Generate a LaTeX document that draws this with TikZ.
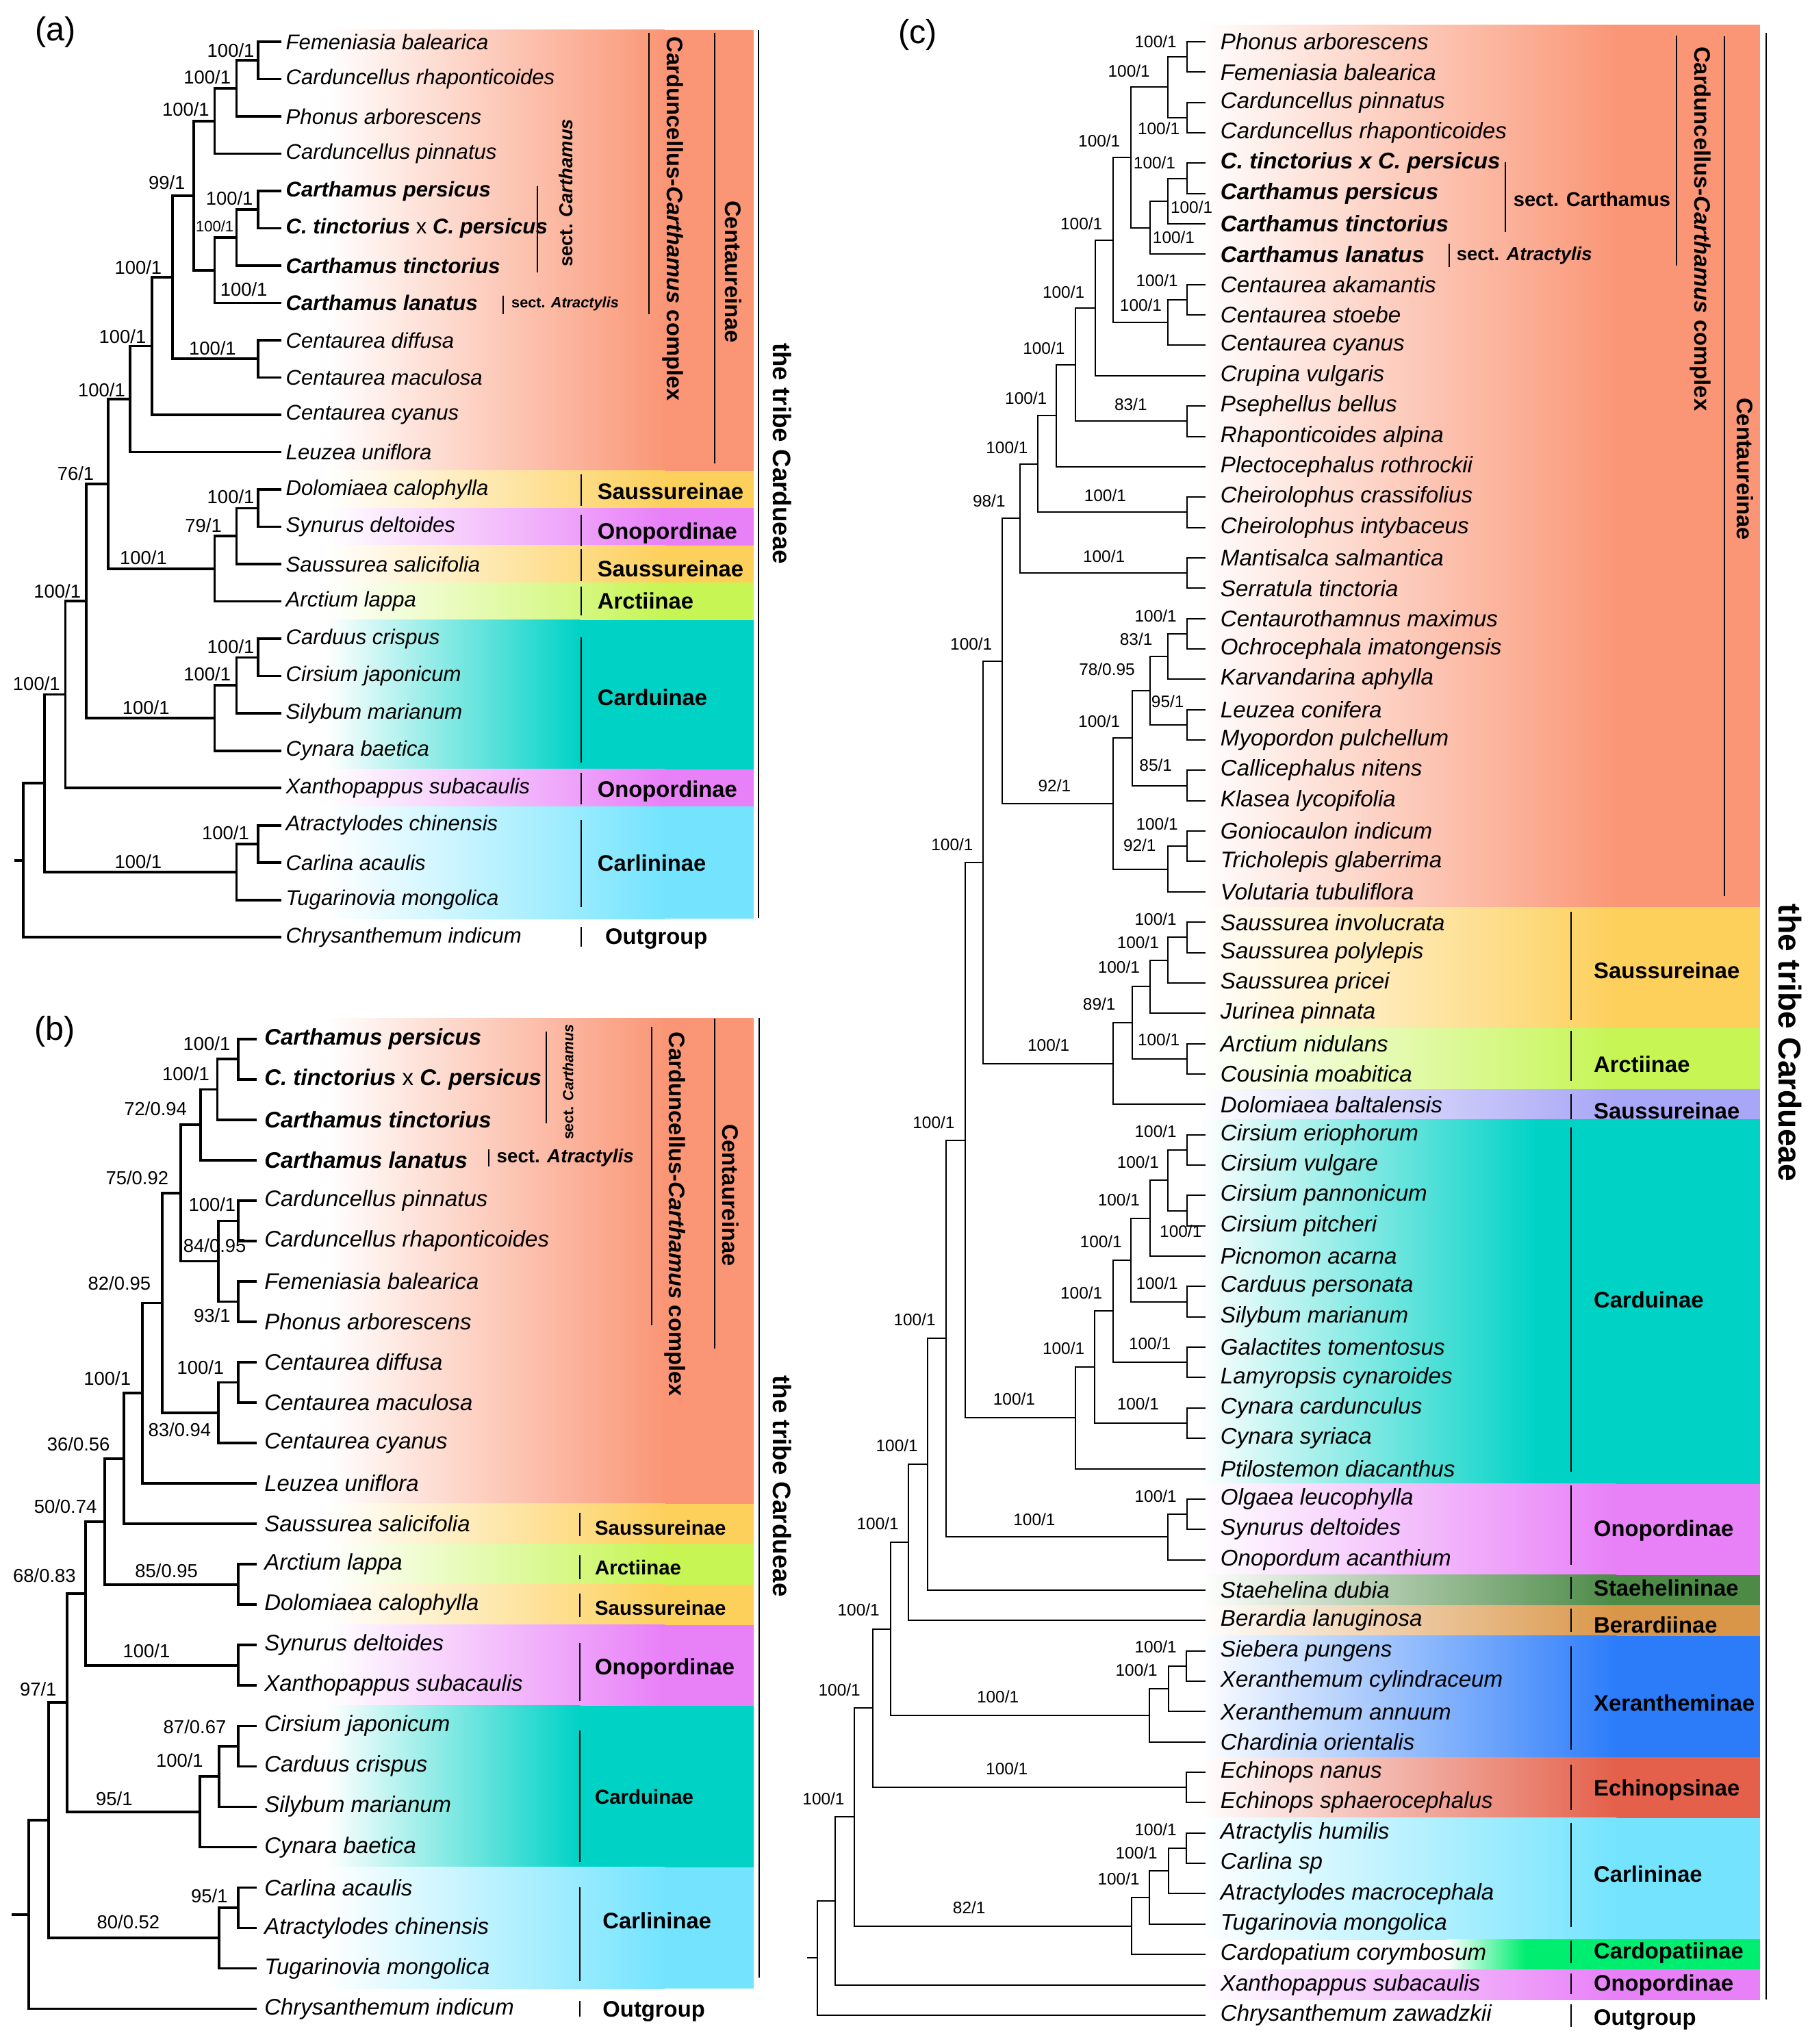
\documentclass[tikz,border=0pt]{standalone}
\usepackage{fontspec}
\setmainfont{Liberation Sans}
\usetikzlibrary{calc}

\definecolor{centc}{RGB}{250,150,118}
\definecolor{sausc}{RGB}{253,208,92}
\definecolor{onopc}{RGB}{232,128,248}
\definecolor{arctc}{RGB}{198,245,84}
\definecolor{cardc}{RGB}{0,210,198}
\definecolor{carlc}{RGB}{116,228,254}
\definecolor{staec}{RGB}{76,138,70}
\definecolor{berac}{RGB}{218,150,72}
\definecolor{xerac}{RGB}{44,124,250}
\definecolor{echic}{RGB}{228,96,74}
\definecolor{cdpac}{RGB}{0,238,112}
\definecolor{lavc}{RGB}{168,166,246}

% clade: name, x, child, child, support value, label position
\newcommand\clade[6]{%
  \coordinate (tmpx) at (#2,0);
  \coordinate (tmpm) at ($(#3)!.5!(#4)$);
  \coordinate (#1) at (tmpm -| tmpx);
  \draw[branch] (#3) -| (#1) |- (#4);
  \if\relax\detokenize{#5}\relax\else
    \node[support] (#1l) at (#6) {#5};
  \fi}
% coloured band behind a group of rows
\newcommand\band[3]{%
  \shade[left color=white, right color=#3] (\ga,#1) rectangle (\gb,#2);
  \fill[#3] (\gb-0.5,#1) rectangle (\bx,#2);}
% subtribe bar with its name
\newcommand\grp[5]{%
  \draw[grpbar] (\gx,#2) -- (\gx,#3);
  \node[grplab] (#1) at (\glx,#4) {#5};}

\begin{document}
\begin{tikzpicture}[x=0.02cm, y=-0.02cm,
  grpbar/.style={line width=0.6pt},
  grplab/.style={anchor=west, inner sep=0pt, font=\fontsize{9.8}{11}\selectfont\bfseries},
  sidelab/.style={inner sep=0pt, rotate=-90, font=\fontsize{9.8}{11}\selectfont\bfseries},
  sectlab/.style={inner sep=0pt, font=\bfseries},
  panel/.style={inner sep=0pt, font=\fontsize{14.5}{16}\selectfont}]
\useasboundingbox (0,0) rectangle (1388,1568);

%%% (a)
\begin{scope}[taxon/.style={anchor=west, inner sep=0pt, font=\fontsize{9.3}{11}\selectfont\itshape},
  support/.style={inner sep=0pt, font=\fontsize{8.2}{9}\selectfont},
  branch/.style={line width=1.1pt}]
\def\ga{250}\def\gb{510}\def\bx{578}\def\gx{446}\def\glx{458}
\band{23}{361.2}{centc}
\band{361.2}{389.8}{sausc}
\band{389.8}{418.4}{onopc}
\band{418.4}{447.1}{sausc}
\band{447.1}{475.7}{arctc}
{\def\gb{445}\band{475.7}{590.2}{cardc}}
\band{590.2}{618.8}{onopc}
\band{618.8}{704.7}{carlc}
\node[panel] (pa) at (42.7,24.7) {(a)};
\foreach \txt [count=\i] in {Femeniasia balearica, Carduncellus rhaponticoides,
  Phonus arborescens, Carduncellus pinnatus, {\bfseries Carthamus persicus},
  {{\bfseries C. tinctorius} {\upshape x} {\bfseries C. persicus}},
  {\bfseries Carthamus tinctorius}, {\bfseries Carthamus lanatus},
  Centaurea diffusa, Centaurea maculosa, Centaurea cyanus, Leuzea uniflora,
  Dolomiaea calophylla, Synurus deltoides, Saussurea salicifolia, Arctium lappa,
  Carduus crispus, Cirsium japonicum, Silybum marianum, Cynara baetica,
  Xanthopappus subacaulis, Atractylodes chinensis, Carlina acaulis,
  Tugarinovia mongolica, Chrysanthemum indicum} {
  \coordinate (a\i) at (216,{32+28.625*(\i-1)});
  \node[taxon] (la\i) at (219,{32+28.625*(\i-1)}) {\txt};
}
\clade{an1}{198}{a1}{a2}{100/1}{177,38.5}
\clade{an2}{181.5}{an1}{a3}{100/1}{159,59}
\clade{an3}{164.6}{an2}{a4}{100/1}{142.5,84}
\clade{an4}{198}{a5}{a6}{100/1}{176,152}
\clade{an5}{181.5}{an4}{a7}{\fontsize{6.6}{7}\selectfont 100/1}{164.7,173.5}
\clade{an6}{164.6}{an5}{a8}{100/1}{187,222}
\clade{an7}{148.6}{an3}{an6}{99/1}{128,140}
\clade{an8}{198}{a9}{a10}{100/1}{163,267}
\clade{an9}{132.5}{an7}{an8}{100/1}{106,205}
\clade{an10}{116.5}{an9}{a11}{100/1}{94,258}
\clade{an11}{99.6}{an10}{a12}{100/1}{78,299}
\clade{an12}{198}{a13}{a14}{100/1}{177,381}
\clade{an13}{181.5}{an12}{a15}{79/1}{156,403}
\clade{an14}{164.6}{an13}{a16}{100/1}{110,428}
\clade{an15}{83}{an11}{an14}{76/1}{58,363}
\clade{an16}{198}{a17}{a18}{100/1}{177,496}
\clade{an17}{181.5}{an16}{a19}{100/1}{159,517}
\clade{an18}{164.6}{an17}{a20}{100/1}{112,542.6}
\clade{an19}{66.3}{an15}{an18}{100/1}{44,453.5}
\clade{an20}{50.2}{an19}{a21}{100/1}{28,524.5}
\clade{an21}{198}{a22}{a23}{100/1}{173,639}
\clade{an22}{181.5}{an21}{a24}{100/1}{106,660.7}
\clade{an23}{34.1}{an20}{an22}{}{}
\clade{an24}{17.7}{an23}{a25}{}{}
\draw[branch] (an24) -- ++(-6.9,0);
\grp{ag1}{364}{388}{377}{Saussureinae}
\grp{ag2}{395}{419}{409}{Onopordinae}
\grp{ag3}{421}{446}{436}{Saussureinae}
\grp{ag4}{450}{472}{461}{Arctiinae}
\grp{ag5}{489}{585}{535}{Carduinae}
\grp{ag6}{593}{617}{607}{Onopordinae}
\grp{ag7}{629}{696}{662}{Carlininae}
\draw[grpbar] (446,711) -- (446,726);
\node[grplab] (ag8) at (463.9,720) {Outgroup};
\draw[grpbar] (412,143) -- (412,209);
\node[sectlab, rotate=90, font=\fontsize{8.2}{9}\selectfont\bfseries] (as1) at (434,148) {sect. \textit{Carthamus}};
\draw[grpbar] (386,226.6) -- (386,241);
\node[sectlab, anchor=west, font=\fontsize{6.5}{7}\selectfont\bfseries] (as2) at (392,233) {sect. \textit{Atractylis}};
\draw[grpbar] (498,25) -- (498,241);
\node[sidelab] (acx) at (516,168) {Carduncellus-\textit{Carthamus} complex};
\draw[grpbar] (548,25) -- (548,355.5);
\node[sidelab] (acent) at (562.5,208.5) {Centaureinae};
\draw[grpbar] (582,23) -- (582,704);
\node[sidelab, font=\fontsize{11}{13}\selectfont\bfseries] (atribe) at (600,348) {the tribe Cardueae};
\end{scope}

%%% (b)
\begin{scope}[taxon/.style={anchor=west, inner sep=0pt, font=\fontsize{9.85}{11}\selectfont\itshape},
  support/.style={inner sep=0pt, font=\fontsize{8.2}{9}\selectfont},
  branch/.style={line width=1.1pt}]
\def\ga{250}\def\gb{510}\def\bx{578}\def\gx{445}\def\glx{456}
\band{781}{1153.5}{centc}
\band{1153.5}{1184.5}{sausc}
\band{1184.5}{1215.5}{arctc}
\band{1215.5}{1246.5}{sausc}
\band{1246.5}{1308.5}{onopc}
{\def\gb{445}\band{1308.5}{1432.5}{cardc}}
\band{1432.5}{1525.5}{carlc}
\node[panel] (pb) at (42.2,791.5) {(b)};
\foreach \txt [count=\i] in {{\bfseries Carthamus persicus},
  {{\bfseries C. tinctorius} {\upshape x} {\bfseries C. persicus}},
  {\bfseries Carthamus tinctorius}, {\bfseries Carthamus lanatus},
  Carduncellus pinnatus, Carduncellus rhaponticoides, Femeniasia balearica,
  Phonus arborescens, Centaurea diffusa, Centaurea maculosa, Centaurea cyanus,
  Leuzea uniflora, Saussurea salicifolia, Arctium lappa, Dolomiaea calophylla,
  Synurus deltoides, Xanthopappus subacaulis, Cirsium japonicum, Carduus crispus,
  Silybum marianum, Cynara baetica, Carlina acaulis, Atractylodes chinensis,
  Tugarinovia mongolica, Chrysanthemum indicum} {
  \coordinate (b\i) at (197,{797+31*(\i-1)});
  \node[taxon] (lb\i) at (202.5,{797+31*(\i-1)}) {\txt};
}
\clade{bn1}{182.7}{b1}{b2}{100/1}{158.6,800.4}
\clade{bn2}{166.7}{bn1}{b3}{100/1}{142.6,824}
\clade{bn3}{153.8}{bn2}{b4}{72/0.94}{119.3,850.5}
\clade{bn4}{182.7}{b5}{b6}{100/1}{162.7,923.8}
\clade{bn5}{182.7}{b7}{b8}{93/1}{162.7,1009}
\clade{bn6}{167.5}{bn4}{bn5}{84/0.95}{164.7,955.6}
\clade{bn7}{138.6}{bn3}{bn6}{75/0.92}{105.2,903.5}
\clade{bn8}{182.7}{b9}{b10}{100/1}{153.8,1049.2}
\clade{bn9}{167.5}{bn8}{b11}{83/0.94}{137.8,1096.8}
\clade{bn10}{124.5}{bn7}{bn9}{82/0.95}{91.6,984.3}
\clade{bn11}{109.2}{bn10}{b12}{100/1}{82.3,1057.4}
\clade{bn12}{95.2}{bn11}{b13}{36/0.56}{60.2,1108}
\clade{bn13}{182.7}{b14}{b15}{85/0.95}{127.7,1205.2}
\clade{bn14}{80.3}{bn12}{bn13}{50/0.74}{50.2,1155.5}
\clade{bn15}{182.7}{b16}{b17}{100/1}{112.4,1266.6}
\clade{bn16}{65.5}{bn14}{bn15}{68/0.83}{34.1,1208.6}
\clade{bn17}{182.7}{b18}{b19}{87/0.67}{149.4,1324.7}
\clade{bn18}{167.9}{bn17}{b20}{100/1}{137.8,1350.4}
\clade{bn19}{153.4}{bn18}{b21}{95/1}{87.6,1380}
\clade{bn20}{51.4}{bn16}{bn19}{97/1}{29.3,1295.7}
\clade{bn21}{182.7}{b22}{b23}{95/1}{160.6,1454.6}
\clade{bn22}{167.9}{bn21}{b24}{80/0.52}{98.4,1474.5}
\clade{bn23}{37.3}{bn20}{bn22}{}{}
\clade{bn24}{22.1}{bn23}{b25}{}{}
\draw[branch] (bn24) -- ++(-13.3,0);
\grp{bg1}{1160.7}{1178.1}{1171.8}{\fontsize{8.8}{10}\selectfont Saussureinae}
\grp{bg2}{1192.8}{1211.3}{1202.5}{\fontsize{8.8}{10}\selectfont Arctiinae}
\grp{bg3}{1222.4}{1240.4}{1233.4}{\fontsize{8.8}{10}\selectfont Saussureinae}
\grp{bg4}{1260.5}{1304.8}{1280.4}{Onopordinae}
\grp{bg5}{1327.4}{1428.3}{1378.6}{\fontsize{8.8}{10}\selectfont Carduinae}
\draw[grpbar] (445,1447.7) -- (445,1519.6);
\node[grplab] (bg6) at (462,1473.4) {Carlininae};
\draw[grpbar] (445,1534.8) -- (445,1547.2);
\node[grplab] (bg7) at (462,1543.1) {Outgroup};
\draw[grpbar] (418.9,791.5) -- (418.9,861.5);
\node[sectlab, rotate=90, font=\fontsize{6.4}{7}\selectfont\bfseries] (bs1) at (435.7,830) {sect. \textit{Carthamus}};
\draw[grpbar] (374.7,881.8) -- (374.7,894.6);
\node[sectlab, anchor=west, font=\fontsize{8.3}{9}\selectfont\bfseries] (bs2) at (380.7,888) {sect. \textit{Atractylis}};
\draw[grpbar] (500,787.7) -- (500,1016.7);
\node[sidelab] (bcx) at (518,931.5) {Carduncellus-\textit{Carthamus} complex};
\draw[grpbar] (548.2,781.3) -- (548.2,1034.5);
\node[sidelab] (bcent) at (560.2,916.8) {Centaureinae};
\draw[grpbar] (582.3,781) -- (582.3,1517);
\node[sidelab, font=\fontsize{11}{13}\selectfont\bfseries] (btribe) at (600,1140) {the tribe Cardueae};
\end{scope}

%%% (c)
\begin{scope}[taxon/.style={anchor=west, inner sep=0pt, font=\fontsize{9.9}{11}\selectfont\itshape},
  support/.style={inner sep=0pt, font=\fontsize{7.3}{8}\selectfont},
  branch/.style={line width=0.6pt}]
\def\ga{920}\def\gb{1240}\def\bx{1350}\def\gx{1205.3}\def\glx{1222.2}
\band{19}{695.8}{centc}
\band{695.8}{788.9}{sausc}
\band{788.9}{835.5}{arctc}
\band{835.5}{858.8}{lavc}
{\def\gb{1180}\band{858.8}{1138.3}{cardc}}
\band{1138.3}{1208.2}{onopc}
\band{1208.2}{1231.5}{staec}
\band{1231.5}{1254.8}{berac}
\band{1254.8}{1348}{xerac}
\band{1348}{1394.5}{echic}
\band{1394.5}{1487.7}{carlc}
{\def\ga{1110}\def\gb{1170}\band{1487.7}{1511}{cdpac}}
\band{1511}{1534.3}{onopc}
\node[panel] (pc) at (704,27) {(c)};
\foreach \txt [count=\i] in {Phonus arborescens, Femeniasia balearica,
  Carduncellus pinnatus, Carduncellus rhaponticoides,
  {\bfseries C. tinctorius x C. persicus}, {\bfseries Carthamus persicus},
  {\bfseries Carthamus tinctorius}, {\bfseries Carthamus lanatus},
  Centaurea akamantis, Centaurea stoebe, Centaurea cyanus, Crupina vulgaris,
  Psephellus bellus, Rhaponticoides alpina, Plectocephalus rothrockii,
  Cheirolophus crassifolius, Cheirolophus intybaceus, Mantisalca salmantica,
  Serratula tinctoria, Centaurothamnus maximus, Ochrocephala imatongensis,
  Karvandarina aphylla, Leuzea conifera, Myopordon pulchellum,
  Callicephalus nitens, Klasea lycopifolia, Goniocaulon indicum,
  Tricholepis glaberrima, Volutaria tubuliflora, Saussurea involucrata,
  Saussurea polylepis, Saussurea pricei, Jurinea pinnata, Arctium nidulans,
  Cousinia moabitica, Dolomiaea baltalensis, Cirsium eriophorum,
  Cirsium vulgare, Cirsium pannonicum, Cirsium pitcheri, Picnomon acarna,
  Carduus personata, Silybum marianum, Galactites tomentosus,
  Lamyropsis cynaroides, Cynara cardunculus, Cynara syriaca,
  Ptilostemon diacanthus, Olgaea leucophylla, Synurus deltoides,
  Onopordum acanthium, Staehelina dubia, Berardia lanuginosa, Siebera pungens,
  Xeranthemum cylindraceum, Xeranthemum annuum, Chardinia orientalis,
  Echinops nanus, Echinops sphaerocephalus, Atractylis humilis, Carlina sp,
  Atractylodes macrocephala, Tugarinovia mongolica, Cardopatium corymbosum,
  Xanthopappus subacaulis, Chrysanthemum zawadzkii} {
  \coordinate (c\i) at (924.5,{32+23.29*(\i-1)});
  \node[taxon] (lc\i) at (935.9,{32+23.29*(\i-1)}) {\txt};
}
\clade{cn1}{910.3}{c1}{c2}{100/1}{886.5,31.8}
\clade{cn2}{910.3}{c3}{c4}{100/1}{888.8,98.7}
\clade{cn3}{895.7}{cn1}{cn2}{100/1}{866,54.7}
\clade{cn4}{910.3}{c5}{c6}{100/1}{885.6,124.7}
\clade{cn5}{895.7}{cn4}{c7}{100/1}{914,159}
\clade{cn6}{882}{cn5}{c8}{100/1}{900.3,182}
\clade{cn7}{867.4}{cn3}{cn6}{100/1}{843.2,108.1}
\clade{cn8}{910.3}{c9}{c10}{100/1}{887.5,215}
\clade{cn9}{895.7}{cn8}{c11}{100/1}{875.1,234}
\clade{cn10}{853.7}{cn7}{cn9}{100/1}{829.5,171.7}
\clade{cn11}{840}{cn10}{c12}{100/1}{815.8,223.9}
\clade{cn12}{910.3}{c13}{c14}{83/1}{867.4,310.4}
\clade{cn13}{824.9}{cn11}{cn12}{100/1}{800.7,267.1}
\clade{cn14}{810.3}{cn13}{c15}{100/1}{787,305.3}
\clade{cn15}{910.3}{c16}{c17}{100/1}{847.7,380.3}
\clade{cn16}{796.1}{cn14}{cn15}{100/1}{772.4,343.4}
\clade{cn17}{910.3}{c18}{c19}{100/1}{846.8,426.7}
\clade{cn18}{782.4}{cn16}{cn17}{98/1}{758.7,384.2}
\clade{cn19}{910.3}{c20}{c21}{100/1}{886.5,472.5}
\clade{cn20}{895.7}{cn19}{c22}{83/1}{871.5,490.3}
\clade{cn21}{910.3}{c23}{c24}{95/1}{895.7,538.1}
\clade{cn22}{882}{cn20}{cn21}{78/0.95}{849.1,513.2}
\clade{cn23}{910.3}{c25}{c26}{85/1}{886.5,586.9}
\clade{cn24}{868.3}{cn22}{cn23}{100/1}{843.2,553.4}
\clade{cn25}{910.3}{c27}{c28}{100/1}{887.5,632}
\clade{cn26}{895.7}{cn25}{c29}{92/1}{874.2,648.5}
\clade{cn27}{853.7}{cn24}{cn26}{92/1}{808.9,602.7}
\clade{cn28}{768.7}{cn18}{cn27}{100/1}{745,494.1}
\clade{cn29}{910.3}{c30}{c31}{100/1}{886.5,705.2}
\clade{cn30}{895.7}{cn29}{c32}{100/1}{872.9,723}
\clade{cn31}{882}{cn30}{c33}{100/1}{858.2,742.1}
\clade{cn32}{910.3}{c34}{c35}{100/1}{888.8,797.3}
\clade{cn33}{868.3}{cn31}{cn32}{89/1}{843.2,770.1}
\clade{cn34}{853.7}{cn33}{c36}{100/1}{804.3,801.6}
\clade{cn35}{754.1}{cn28}{cn34}{100/1}{730.4,648}
\clade{cn36}{910.3}{c37}{c38}{100/1}{886.5,868}
\clade{cn37}{910.3}{c39}{c40}{100/1}{905.7,944.3}
\clade{cn38}{895.7}{cn36}{cn37}{100/1}{872.9,891.4}
\clade{cn39}{882}{cn38}{c41}{100/1}{858.2,920.6}
\clade{cn40}{910.3}{c42}{c43}{100/1}{887.5,984.2}
\clade{cn41}{867.4}{cn39}{cn40}{100/1}{844.5,952.4}
\clade{cn42}{910.3}{c44}{c45}{100/1}{882,1030.8}
\clade{cn43}{853.7}{cn41}{cn42}{100/1}{829.5,991.9}
\clade{cn44}{910.3}{c46}{c47}{100/1}{872.9,1077.1}
\clade{cn45}{839.5}{cn43}{cn44}{100/1}{815.8,1034.4}
\clade{cn46}{824.9}{cn45}{c48}{100/1}{777.9,1073.3}
\clade{cn47}{740.4}{cn35}{cn46}{100/1}{716.2,860.8}
\clade{cn48}{910.3}{c49}{c50}{100/1}{886.5,1147.8}
\clade{cn49}{895.7}{cn48}{c51}{100/1}{793.4,1165.4}
\clade{cn50}{725.8}{cn47}{cn49}{100/1}{701.6,1012.2}
\clade{cn51}{711.5}{cn50}{c52}{100/1}{688,1109}
\clade{cn52}{696.8}{cn51}{c53}{100/1}{673.3,1168.6}
\clade{cn53}{910}{c54}{c55}{100/1}{886.5,1263.3}
\clade{cn54}{896.3}{cn53}{c56}{100/1}{871.8,1281.2}
\clade{cn55}{881.6}{cn54}{c57}{100/1}{765.4,1301.7}
\clade{cn56}{683.1}{cn52}{cn55}{100/1}{658.6,1235.1}
\clade{cn57}{910}{c58}{c59}{100/1}{772.3,1357}
\clade{cn58}{669.4}{cn56}{cn57}{100/1}{643.9,1296.4}
\clade{cn59}{910}{c60}{c61}{100/1}{886.5,1403.5}
\clade{cn60}{896.3}{cn59}{c62}{100/1}{871.8,1421.2}
\clade{cn61}{881.6}{cn60}{c63}{100/1}{858.1,1441.2}
\clade{cn62}{867.9}{cn61}{c64}{82/1}{743.4,1463.3}
\clade{cn63}{655.2}{cn58}{cn62}{100/1}{631.7,1379.9}
\clade{cn64}{640.5}{cn63}{c65}{}{}
\clade{cn65}{626.8}{cn64}{c66}{}{}
\draw[branch] (cn65) -- ++(-7.8,0);
\grp{cg1}{699.4}{782.3}{744.7}{Saussureinae}
\grp{cg2}{790.9}{829}{816.3}{Arctiinae}
\grp{cg3}{839.2}{858.3}{852}{Saussureinae}
\grp{cg4}{864.7}{1129.2}{997}{Carduinae}
\grp{cg5}{1139.4}{1200.2}{1174}{Onopordinae}
\grp{cg6}{1209.6}{1226.5}{1218}{Staehelininae}
\grp{cg7}{1233.8}{1251.7}{1246.5}{Berardiinae}
\grp{cg8}{1262.8}{1342.2}{1306.2}{Xerantheminae}
\grp{cg9}{1353.5}{1388.5}{1373.3}{Echinopsinae}
\grp{cg10}{1398.3}{1478}{1437.7}{Carlininae}
\grp{cg11}{1488.5}{1506.1}{1498}{Cardopatiinae}
\grp{cg12}{1514}{1529.8}{1523}{Onopordinae}
\grp{cg13}{1537.7}{1554.8}{1549.5}{Outgroup}
\draw[grpbar] (1154.6,124.7) -- (1154.6,178);
\node[sectlab, anchor=west, font=\fontsize{8.7}{9}\selectfont\bfseries] (cs1) at (1160.6,152.6) {sect. Carthamus};
\draw[grpbar] (1111.7,187) -- (1111.7,204.8);
\node[sectlab, anchor=west, font=\fontsize{8.2}{9}\selectfont\bfseries] (cs2) at (1117,195.9) {sect. \textit{Atractylis}};
\draw[grpbar] (1286.2,27.5) -- (1286.2,203.5);
\node[sidelab] (ccx) at (1304.4,175.5) {Carduncellus-\textit{Carthamus} complex};
\draw[grpbar] (1322.7,28) -- (1322.7,687.4);
\node[sidelab] (ccent) at (1338.7,359.7) {Centaureinae};
\draw[grpbar] (1354.7,25.4) -- (1354.7,1533.8);
\node[sidelab, font=\fontsize{13.8}{15}\selectfont\bfseries] (ctribe) at (1373,800) {the tribe Cardueae};
\end{scope}
\end{tikzpicture}
\end{document}
